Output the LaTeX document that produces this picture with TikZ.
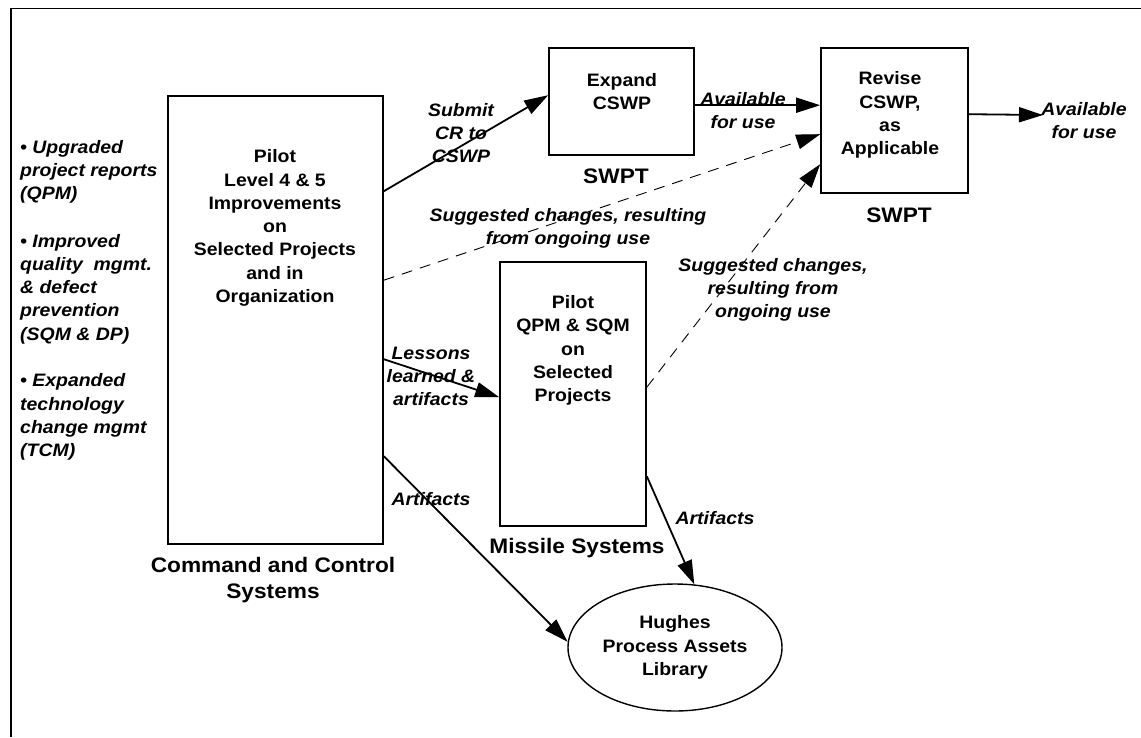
\documentclass[tikz,border=0pt]{standalone}
\usepackage{fontspec}
\setmainfont{Liberation Sans}[FakeStretch=1.08]
\usetikzlibrary{arrows.meta,shapes.geometric}
\begin{document}
\begin{tikzpicture}[x=1pt,y=-1pt,
  box/.style={draw, line width=1.6pt, inner sep=0pt},
  txt/.style={font=\fontsize{18}{23.3}\selectfont\bfseries, align=center, inner sep=0pt},
  lbl/.style={font=\fontsize{18}{23}\selectfont\bfseries\itshape, align=center, inner sep=0pt},
  blt/.style={font=\fontsize{18}{23.3}\selectfont\bfseries\itshape, align=left, inner sep=0pt, anchor=west},
  ttl/.style={font=\fontsize{21}{26}\selectfont\bfseries, align=center, inner sep=0pt},
  arr/.style={-{Triangle[length=24pt,width=15pt]}, line width=1.8pt},
  darr/.style={-{Triangle[length=24pt,width=15pt]}, line width=0.9pt, dash pattern=on 11pt off 8pt}]
\useasboundingbox (0,0) rectangle (1141,737);
\fill[white] (0,0) rectangle (1141,737);
% frame
\draw[line width=1.6pt] (11,737) -- (11,8.5) -- (1141,8.5);
% boxes
\node[box, minimum width=215pt, minimum height=448pt] (cc) at (275.5,320) {};
\node[box, minimum width=145pt, minimum height=107pt] (exp) at (621.5,101.5) {};
\node[box, minimum width=147pt, minimum height=145pt] (rev) at (894.5,120.5) {};
\node[box, minimum width=146pt, minimum height=264pt] (mis) at (573,394) {};
\node[draw, line width=1.4pt, ellipse, minimum width=214pt, minimum height=127pt, inner sep=0pt,
      font=\fontsize{18}{23.3}\selectfont\bfseries, align=center] (lib) at (675,647.5)
      {Hughes\\Process Assets\\Library};
% box texts
\node[txt] (cct) at (275,228) {Pilot\\Level 4 \& 5\\Improvements\\on\\Selected Projects\\and in\\Organization};
\node[txt] (expt) at (622,91.5) {Expand\\CSWP};
\node[txt] (revt) at (890,115) {Revise\\CSWP,\\as\\Applicable};
\node[txt] (mist) at (573,350.5) {Pilot\\QPM \& SQM\\on\\Selected\\Projects};
% titles
\node[ttl] (cctl) at (273,580.5) {Command and Control\\Systems};
\node[ttl] (swpt1) at (616,176.5) {SWPT};
\node[ttl] (swpt2) at (899,215.5) {SWPT};
\node[ttl] (mistl) at (577,548.5) {Missile Systems};
% bullets
\node[blt] (b1) at (20,172) {• Upgraded\\project reports\\(QPM)};
\node[blt] (b2) at (20,289) {• Improved\\quality\ \ mgmt.\\\& defect\\prevention\\(SQM \& DP)};
\node[blt] (b3) at (20,417) {• Expanded\\technology\\change mgmt\\(TCM)};
% connector end
\coordinate (out) at (1043,115);
% connectors
\draw[arr] ([yshift=-96pt]cc.north east) -- ([yshift=-48pt]exp.north west);
\draw[arr] ([yshift=-58pt]exp.north east) -- ([yshift=-58pt]rev.north west);
\draw[arr] ([yshift=-67pt]rev.north east) -- (out);
\draw[darr] ([yshift=-185pt]cc.north east) -- ([yshift=-87pt]rev.north west);
\draw[arr] ([yshift=-264pt]cc.north east) -- ([yshift=-136pt]mis.north west);
\draw[darr] ([yshift=-126pt]mis.north east) -- ([yshift=-117pt]rev.north west);
\draw[arr] ([yshift=-361pt]cc.north east) -- (lib.177);
\draw[arr] ([yshift=-215pt]mis.north east) -- (lib.73);
% labels
\node[lbl] (l1) at (461,133) {Submit\\CR to\\CSWP};
\node[lbl] (l2) at (743,111) {Available\\for use};
\node[lbl] (l3) at (1084,120.5) {Available\\for use};
\node[lbl] (l4) at (568,228.5) {Suggested changes, resulting\\from ongoing use};
\node[lbl] (l5) at (431,376.5) {Lessons\\learned \&\\artifacts};
\node[lbl] (l6) at (773,289.5) {Suggested changes,\\resulting from\\ongoing use};
\node[lbl] (l7) at (431,499.5) {Artifacts};
\node[lbl] (l8) at (715,518.5) {Artifacts};
\end{tikzpicture}
\end{document}
